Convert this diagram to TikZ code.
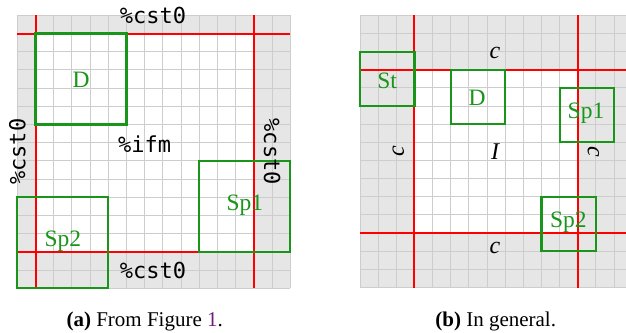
\documentclass[tikz,border=0pt]{standalone}
\usepackage{fontspec}
\setmainfont{Liberation Serif}
\setmonofont{DejaVu Sans Mono}
\usetikzlibrary{fit}
\definecolor{gfill}{RGB}{230,230,230}
\definecolor{gline}{RGB}{205,205,205}
\definecolor{boxgreen}{RGB}{25,150,25}
\definecolor{linkpurple}{RGB}{112,28,128}
\tikzset{
  cellline/.style={draw=gline, line width=1pt},
  redline/.style={draw=red, line width=2pt},
  gbox/.style={draw=boxgreen, line width=2.2pt, inner sep=0pt, outer sep=0pt},
  glabel/.style={text=boxgreen, font=\fontsize{23.5}{25}\selectfont, inner sep=0pt},
  monolabel/.style={text=black, font=\fontsize{22}{24}\selectfont\ttfamily, inner sep=0pt},
  mathlabel/.style={text=black, font=\fontsize{24}{26}\selectfont\itshape, inner sep=0pt},
  captext/.style={text=black, font=\fontsize{21}{24}\selectfont, inner sep=0pt, anchor=base},
}
\begin{document}
\begin{tikzpicture}
\path[use as bounding box] (0,0) rectangle (626pt,-332pt);
\clip (0,0) rectangle (626pt,-332pt);
% ---------------- panel (a)
\begin{scope}[shift={(17.3pt,-15.3pt)}, x=18.2pt, y=-18.2pt]
  \fill[gfill] (0,0) rectangle (15,15);
  \fill[white] (1,1) rectangle (13,13);
  \foreach \k in {0,...,15} {
    \draw[cellline] (\k,0) -- (\k,15);
    \draw[cellline] (0,\k) -- (15,\k);
  }
  \draw[redline] (1,0) -- (1,15) (13,0) -- (13,15)
                 (0,1) -- (15,1) (0,13) -- (15,13);
  \node[gbox, fit={(1,1)(6,6)}] (aD) {};
  \node[gbox, fit={(10,8)(15,13)}] (aSp1) {};
  \node[gbox, fit={(0,10)(5,15)}] (aSp2) {};
  \node[glabel] (aDl) at (3.5,3.55) {D};
  \node[glabel] (aSp1l) at (12.5,10.45) {Sp1};
  \node[glabel] (aSp2l) at (2.5,12.4) {Sp2};
  \node[monolabel] (atop) at (7.46,0) {\%cst0};
  \node[monolabel] (abot) at (7.46,14) {\%cst0};
  \node[monolabel, rotate=90] (aleft) at (0,7.5) {\%cst0};
  \node[monolabel, rotate=-90] (aright) at (14,7.5) {\%cst0};
  \node[monolabel] (aifm) at (7,7.1) {\%ifm};
\end{scope}
% ---------------- panel (b)
\begin{scope}[shift={(360pt,-15.3pt)}, x=18.15pt, y=-18.15pt]
  \fill[gfill] (0,0) rectangle (15,15);
  \fill[white] (3,3) rectangle (12,12);
  \foreach \k in {0,...,15} {
    \draw[cellline] (\k,0) -- (\k,15);
    \draw[cellline] (0,\k) -- (15,\k);
  }
  \draw[redline] (3,0) -- (3,15) (12,0) -- (12,15)
                 (0,3) -- (15,3) (0,12) -- (15,12);
  \node[gbox, fit={(0,2)(3,5)}] (bSt) {};
  \node[gbox, fit={(5,3)(8,6)}] (bD) {};
  \node[gbox, fit={(11,4)(14,7)}] (bSp1) {};
  \node[gbox, fit={(10,10)(13,13)}] (bSp2) {};
  \node[glabel] (bStl) at (1.5,3.6) {St};
  \node[glabel] (bDl) at (6.45,4.55) {D};
  \node[glabel] (bSp1l) at (12.45,5.4) {Sp1};
  \node[glabel] (bSp2l) at (11.48,11.4) {Sp2};
  \node[mathlabel] (btop) at (7.44,2.09) {c};
  \node[mathlabel] (bbot) at (7.44,12.84) {c};
  \node[mathlabel, rotate=90] (bleft) at (2.11,7.51) {c};
  \node[mathlabel, rotate=-90] (bright) at (12.86,7.53) {c};
  \node[mathlabel] (bI) at (7.44,7.5) {I};
\end{scope}
% ---------------- captions
\node[captext] (capa) at (144.7pt,-326pt) {\textbf{(a)} From Figure \textcolor{linkpurple}{1}.};
\node[captext] (capb) at (495.7pt,-326pt) {\textbf{(b)} In general.};
\end{tikzpicture}
\end{document}
